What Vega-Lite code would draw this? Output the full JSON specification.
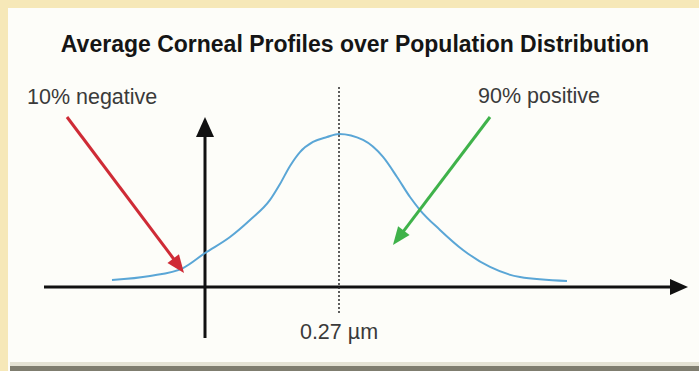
{
  "$schema": "https://vega.github.io/schema/vega-lite/v6.json",
  "width": 691,
  "height": 363,
  "autosize": {"type": "none"},
  "padding": {"left": 8, "top": 8, "right": 0, "bottom": 0},
  "background": "#f6e8b8",
  "config": {"view": {"fill": "#fdfdf9", "stroke": null}},
  "layer": [
    {
      "data": {"values": [
        {"part": "light", "x": -0.39291, "x2": 0.99537, "y": -0.4902, "y2": -0.51634},
        {"part": "dark", "x": -0.39291, "x2": 0.99537, "y": -0.51634, "y2": -0.54902}
      ]},
      "mark": {"type": "rect"},
      "encoding": {
        "x": {"field": "x", "type": "quantitative", "scale": {"domain": [-0.39694, 0.99537], "nice": false, "zero": false}, "axis": null},
        "x2": {"field": "x2"},
        "y": {"field": "y", "type": "quantitative", "scale": {"domain": [-0.54902, 1.82353], "nice": false, "zero": false}, "axis": null},
        "y2": {"field": "y2"},
        "fill": {"field": "part", "type": "nominal", "scale": {"domain": ["light", "dark"], "range": ["#e4e2d4", "#7f7d6f"]}, "legend": null}
      }
    },
    {
      "data": {"values": [
        {"x": 0, "y": -0.3333, "x2": 0, "y2": 1.0261},
        {"x": -0.3244, "y": 0, "x2": 0.94097, "y2": 0}
      ]},
      "mark": {"type": "rule", "color": "#111111", "strokeWidth": 3},
      "encoding": {
        "x": {"field": "x", "type": "quantitative", "axis": null},
        "y": {"field": "y", "type": "quantitative", "axis": null},
        "x2": {"field": "x2"},
        "y2": {"field": "y2"}
      }
    },
    {
      "data": {"values": [{"x": 0.95508, "y": 0}]},
      "mark": {"type": "point", "shape": "M-1,-0.889L1,0L-1,0.889Z", "size": 324, "filled": true, "opacity": 1, "color": "#111111"},
      "encoding": {
        "x": {"field": "x", "type": "quantitative", "axis": null},
        "y": {"field": "y", "type": "quantitative", "axis": null}
      }
    },
    {
      "data": {"values": [{"x": 0, "y": 1.0458}]},
      "mark": {"type": "point", "shape": "M-1,-0.9L1,0L-1,0.9Z", "size": 400, "angle": 270, "filled": true, "opacity": 1, "color": "#111111"},
      "encoding": {
        "x": {"field": "x", "type": "quantitative", "axis": null},
        "y": {"field": "y", "type": "quantitative", "axis": null}
      }
    },
    {
      "data": {"values": [{"x": 0.27, "y": -0.1699, "y2": 1.3203}]},
      "mark": {"type": "rule", "color": "#2a2a2a", "strokeWidth": 1.5, "strokeDash": [2, 2]},
      "encoding": {
        "x": {"field": "x", "type": "quantitative", "axis": null},
        "y": {"field": "y", "type": "quantitative", "axis": null},
        "y2": {"field": "y2"}
      }
    },
    {
      "data": {"values": [
        {"x": -0.1874, "y": 0.046},
        {"x": -0.1108, "y": 0.072},
        {"x": -0.0443, "y": 0.124},
        {"x": 0, "y": 0.222},
        {"x": 0.0504, "y": 0.327},
        {"x": 0.0907, "y": 0.438},
        {"x": 0.131, "y": 0.569},
        {"x": 0.1511, "y": 0.673},
        {"x": 0.1713, "y": 0.791},
        {"x": 0.1914, "y": 0.882},
        {"x": 0.2176, "y": 0.948},
        {"x": 0.2458, "y": 0.98},
        {"x": 0.27, "y": 1.0},
        {"x": 0.3184, "y": 0.961},
        {"x": 0.3587, "y": 0.85},
        {"x": 0.3869, "y": 0.719},
        {"x": 0.4131, "y": 0.588},
        {"x": 0.4332, "y": 0.503},
        {"x": 0.4735, "y": 0.373},
        {"x": 0.5198, "y": 0.242},
        {"x": 0.5743, "y": 0.131},
        {"x": 0.6347, "y": 0.065},
        {"x": 0.7294, "y": 0.039}
      ]},
      "mark": {"type": "line", "color": "#5aa6d6", "strokeWidth": 2, "interpolate": "monotone"},
      "encoding": {
        "x": {"field": "x", "type": "quantitative", "axis": null},
        "y": {"field": "y", "type": "quantitative", "axis": null}
      }
    },
    {
      "data": {"values": [
        {"label": "negative", "x": -0.27806, "y": 1.1111, "x2": -0.05843, "y2": 0.1634},
        {"label": "positive", "x": 0.57426, "y": 1.1111, "x2": 0.39593, "y2": 0.3477}
      ]},
      "mark": {"type": "rule", "strokeWidth": 3},
      "encoding": {
        "x": {"field": "x", "type": "quantitative", "axis": null},
        "y": {"field": "y", "type": "quantitative", "axis": null},
        "x2": {"field": "x2"},
        "y2": {"field": "y2"},
        "color": {"field": "label", "type": "nominal", "scale": {"domain": ["negative", "positive"], "range": ["#cf2b36", "#3fb24a"]}, "legend": null}
      }
    },
    {
      "data": {"values": [{"label": "negative", "x": -0.05319, "y": 0.1386}]},
      "mark": {"type": "point", "shape": "M-1,-0.8L1,0L-1,0.8Z", "size": 324, "angle": 53.13, "filled": true, "opacity": 1},
      "encoding": {
        "x": {"field": "x", "type": "quantitative", "axis": null},
        "y": {"field": "y", "type": "quantitative", "axis": null},
        "color": {"field": "label", "type": "nominal", "legend": null}
      }
    },
    {
      "data": {"values": [{"label": "positive", "x": 0.38969, "y": 0.3216}]},
      "mark": {"type": "point", "shape": "M-1,-0.8L1,0L-1,0.8Z", "size": 324, "angle": 127.2, "filled": true, "opacity": 1},
      "encoding": {
        "x": {"field": "x", "type": "quantitative", "axis": null},
        "y": {"field": "y", "type": "quantitative", "axis": null},
        "color": {"field": "label", "type": "nominal", "legend": null}
      }
    },
    {
      "data": {"values": [
        {"text": "10% negative", "x": -0.35866, "y": 1.1961},
        {"text": "90% positive", "x": 0.55008, "y": 1.2026}
      ]},
      "mark": {"type": "text", "align": "left", "baseline": "alphabetic", "font": "Liberation Sans", "fontSize": 21.5, "color": "#3a3a3a"},
      "encoding": {
        "x": {"field": "x", "type": "quantitative", "axis": null},
        "y": {"field": "y", "type": "quantitative", "axis": null},
        "text": {"field": "text"}
      }
    },
    {
      "data": {"values": [{"text": "0.27 µm", "x": 0.27, "y": -0.3399}]},
      "mark": {"type": "text", "align": "center", "baseline": "alphabetic", "font": "Liberation Sans", "fontSize": 21.5, "color": "#3a3a3a"},
      "encoding": {
        "x": {"field": "x", "type": "quantitative", "axis": null},
        "y": {"field": "y", "type": "quantitative", "axis": null},
        "text": {"field": "text"}
      }
    },
    {
      "data": {"values": [{"text": "Average Corneal Profiles over Population Distribution", "x": 0.30224, "y": 1.5359}]},
      "mark": {"type": "text", "align": "center", "baseline": "alphabetic", "font": "Liberation Sans", "fontWeight": "bold", "fontSize": 23, "color": "#151515"},
      "encoding": {
        "x": {"field": "x", "type": "quantitative", "axis": null},
        "y": {"field": "y", "type": "quantitative", "axis": null},
        "text": {"field": "text"}
      }
    }
  ]
}
